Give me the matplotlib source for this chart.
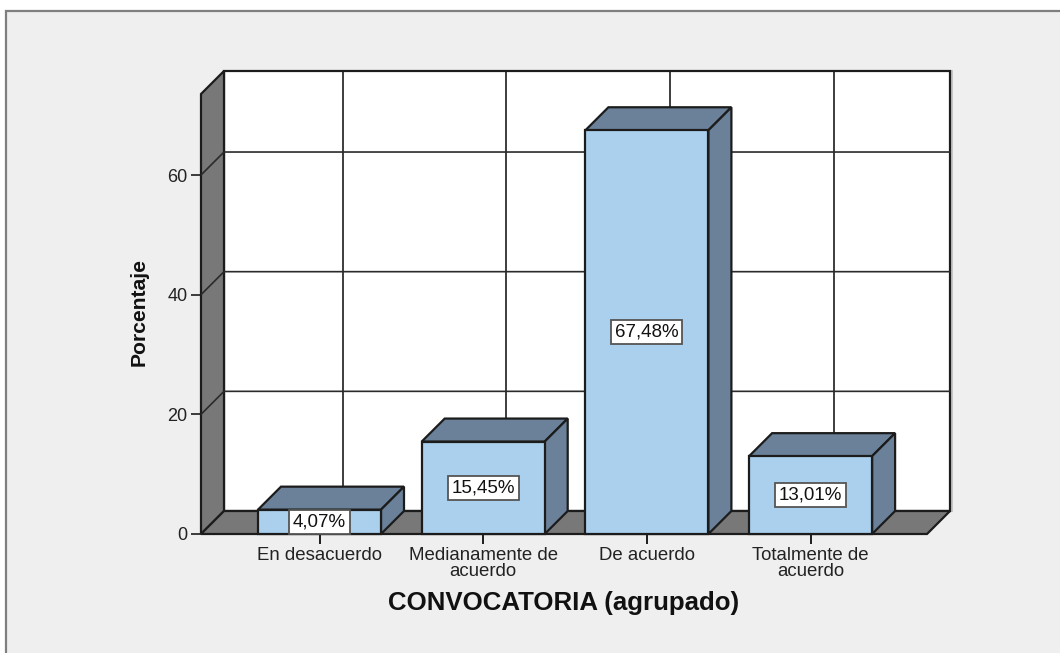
import matplotlib
matplotlib.use("Agg")
import matplotlib.pyplot as plt
from matplotlib.patches import Polygon, Rectangle

categories = ["En desacuerdo", "Medianamente de\nacuerdo", "De acuerdo", "Totalmente de\nacuerdo"]
values = [4.07, 15.45, 67.48, 13.01]
y_ticks = [0, 20, 40, 60]
x_title = "CONVOCATORIA (agrupado)"
y_title = "Porcentaje"

W, H = 1060, 653
plt.rcParams['font.family'] = ['Liberation Sans', 'DejaVu Sans']
fig = plt.figure(figsize=(W / 100, H / 100), dpi=100, facecolor='white')
fig.add_artist(Rectangle((6 / W, -0.02), 1.02, 1.02 - 11 / H, transform=fig.transFigure,
                         facecolor='#efefef', edgecolor='#7f7f7f', linewidth=1.6, zorder=-1))

L, R, B, T = 201, 927, 534, 94
ax = fig.add_axes([L / W, 1 - B / H, (R - L) / W, (B - T) / H])
PX_X = 163.7
PX_Y = 5.983
x0 = (L - 319.5) / PX_X
ax.set_xlim(x0, x0 + (R - L) / PX_X)
ax.set_ylim(0, (B - T) / PX_Y)
ax.patch.set_visible(False)
for s in ax.spines.values():
    s.set_visible(False)
xmin, xmax = ax.get_xlim()
ymin, ymax = ax.get_ylim()
dx, dy = 23 / PX_X, 23 / PX_Y
shadow_x = 2 / PX_X
EDGE = '#1c1c1c'
WALL = '#787878'
TOPC = '#6a8199'
FRONT = '#abd0ee'
lw = 1.6


def poly(pts, fc, z, ec=EDGE, w=lw):
    ax.add_patch(Polygon(pts, closed=True, facecolor=fc, edgecolor=ec, linewidth=w,
                         zorder=z, clip_on=False, joinstyle='miter'))


# back wall, side wall, floor
ax.plot([xmax + dx + shadow_x] * 2, [dy, ymax + dy], color='#c4c4c4', lw=1.4, zorder=0.9, clip_on=False)
poly([(xmin + dx, dy), (xmax + dx, dy), (xmax + dx, ymax + dy), (xmin + dx, ymax + dy)], 'white', 1)
poly([(xmin, 0), (xmin + dx, dy), (xmin + dx, ymax + dy), (xmin, ymax)], WALL, 1.2)
poly([(xmin, 0), (xmax, 0), (xmax + dx, dy), (xmin + dx, dy)], WALL, 1.2)

# grid
for t in y_ticks[1:]:
    ax.plot([xmin, xmin + dx, xmax + dx], [t, t + dy, t + dy], color='#2a2a2a', lw=1.2, zorder=1.5, clip_on=False)
for i in range(len(categories)):
    ax.plot([i + dx, i + dx], [dy, ymax + dy], color='#1c1c1c', lw=1.2, zorder=1.1, clip_on=False)

# bars
bw = 123 / PX_X
ax.bar(range(len(values)), values, width=bw, color=FRONT, edgecolor=EDGE, linewidth=lw, zorder=3, clip_on=False)
for i, v in enumerate(values):
    a, b = i - bw / 2, i + bw / 2
    poly([(a, v), (b, v), (b + dx, v + dy), (a + dx, v + dy)], TOPC, 2.5)
    poly([(b, 0), (b + dx, dy), (b + dx, v + dy), (b, v)], TOPC, 2.5)
    ax.text(i, v / 2, f"{v:.2f}%".replace('.', ','), ha='center', va='center', fontsize=13.5,
            color='#111111', zorder=5,
            bbox=dict(boxstyle='square,pad=0.2', facecolor='white', edgecolor='#555555', linewidth=1.3))

ax.set_xticks(range(len(categories)))
ax.set_xticklabels(categories, fontsize=13.4, color='#222222', linespacing=0.9)
ax.set_yticks(y_ticks)
ax.tick_params(axis='x', length=7, width=1.4, color=EDGE, pad=2.5)
ax.tick_params(axis='y', length=7.5, width=1.2, color=EDGE, pad=2.2, labelsize=13, labelcolor='#222222')
ax.set_xlabel(x_title, fontsize=18.6, fontweight='bold', color='#111111', va='center')
ax.xaxis.set_label_coords(0.5, -(603 - B) / (B - T))
ax.set_ylabel(y_title, fontsize=15.2, fontweight='bold', color='#111111', va='center')
ax.yaxis.set_label_coords((139 - L) / (R - L), 0.505)

fig.savefig('out.png', dpi=100, facecolor='white')
